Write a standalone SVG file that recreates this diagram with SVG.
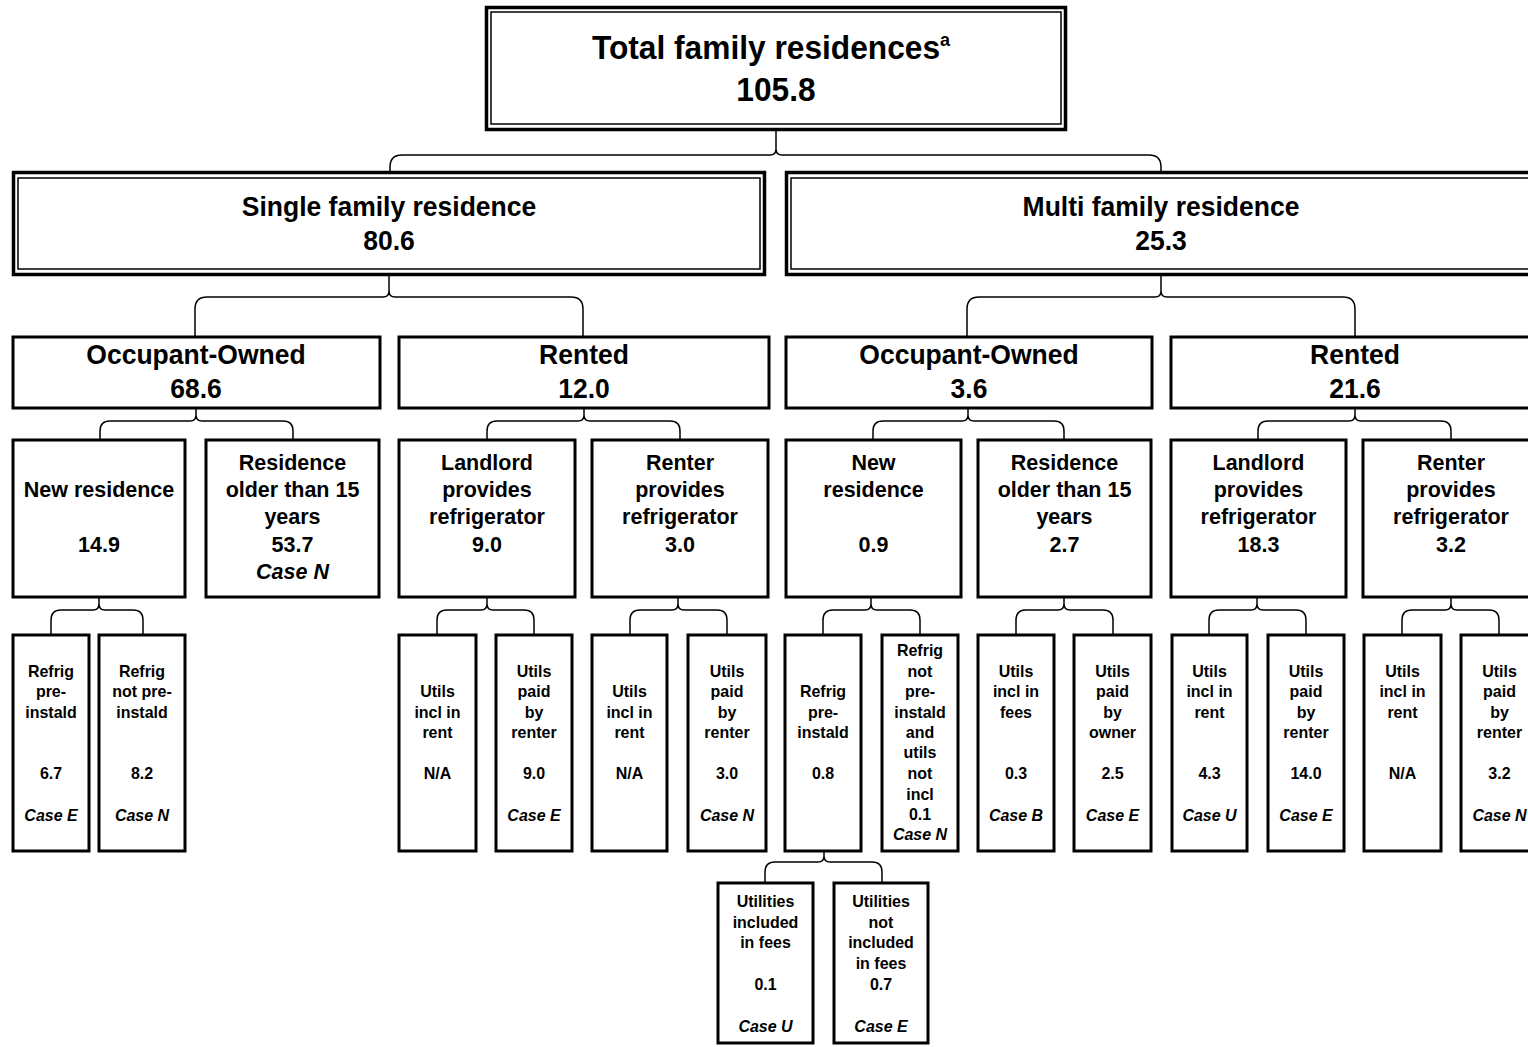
<svg xmlns="http://www.w3.org/2000/svg" width="1528" height="1047" viewBox="0 0 1528 1047">
<style>
.dblo{fill:#fff;stroke:#000;stroke-width:3.5}
.dbli{fill:none;stroke:#000;stroke-width:1.5}
.box{fill:#fff;stroke:#000;stroke-width:3}
.br{fill:none;stroke:#000;stroke-width:1.5}
text{font-family:"Liberation Sans",Arial,sans-serif;font-weight:bold;text-anchor:middle;fill:#000;transform-box:fill-box;transform-origin:center;transform:scaleY(1.06)}
.t0{font-size:31.7px}
.t1{font-size:26.5px}
.t3{font-size:21.5px}
.t4{font-size:16px}
.it{font-style:italic}
</style>
<g id="connectors">
<path class="br" d="M390,171 V167 Q390,155 402,155 H770 Q776,155 776,149 V130 M776,149 Q776,155 782,155 H1149 Q1161,155 1161,167 V171"/>
<path class="br" d="M195,336 V309 Q195,297 207,297 H383 Q389,297 389,291 V275 M389,291 Q389,297 395,297 H571 Q583,297 583,309 V336"/>
<path class="br" d="M967,336 V309 Q967,297 979,297 H1155 Q1161,297 1161,291 V275 M1161,291 Q1161,297 1167,297 H1343 Q1355,297 1355,309 V336"/>
<path class="br" d="M100,439 V431 Q100,421 110,421 H190 Q196,421 196,415 V408 M196,415 Q196,421 202,421 H283 Q293,421 293,431 V439"/>
<path class="br" d="M487,439 V431 Q487,421 497,421 H578 Q584,421 584,415 V408 M584,415 Q584,421 590,421 H670 Q680,421 680,431 V439"/>
<path class="br" d="M873,439 V431 Q873,421 883,421 H962 Q968,421 968,415 V408 M968,415 Q968,421 974,421 H1054 Q1064,421 1064,431 V439"/>
<path class="br" d="M1258,439 V431 Q1258,421 1268,421 H1349 Q1355,421 1355,415 V408 M1355,415 Q1355,421 1361,421 H1441 Q1451,421 1451,431 V439"/>
<path class="br" d="M51,634 V620 Q51,610 61,610 H93 Q99,610 99,604 V597 M99,604 Q99,610 105,610 H133 Q143,610 143,620 V634"/>
<path class="br" d="M437,634 V620 Q437,610 447,610 H481 Q487,610 487,604 V597 M487,604 Q487,610 493,610 H524 Q534,610 534,620 V634"/>
<path class="br" d="M630,634 V620 Q630,610 640,610 H672 Q678,610 678,604 V597 M678,604 Q678,610 684,610 H717 Q727,610 727,620 V634"/>
<path class="br" d="M823,634 V620 Q823,610 833,610 H865 Q871,610 871,604 V597 M871,604 Q871,610 877,610 H910 Q920,610 920,620 V634"/>
<path class="br" d="M1016,634 V620 Q1016,610 1026,610 H1058 Q1064,610 1064,604 V597 M1064,604 Q1064,610 1070,610 H1103 Q1113,610 1113,620 V634"/>
<path class="br" d="M1209,634 V620 Q1209,610 1219,610 H1251 Q1257,610 1257,604 V597 M1257,604 Q1257,610 1263,610 H1296 Q1306,610 1306,620 V634"/>
<path class="br" d="M1402,634 V620 Q1402,610 1412,610 H1445 Q1451,610 1451,604 V597 M1451,604 Q1451,610 1457,610 H1489 Q1499,610 1499,620 V634"/>
<path class="br" d="M765,882 V872 Q765,862 775,862 H818 Q824,862 824,856 V852 M824,856 Q824,862 830,862 H872 Q882,862 882,872 V882"/>
</g>
<g id="total">
<rect class="dblo" x="486.5" y="7.5" width="579" height="122"/>
<rect class="dbli" x="491" y="12" width="570" height="112"/>
<text class="t0" x="771" y="58">Total family residences<tspan font-size="18" dy="-12">a</tspan></text>
<text class="t0" x="776" y="100">105.8</text>
</g>
<g id="single">
<rect class="dblo" x="13.5" y="172.5" width="751" height="102"/>
<rect class="dbli" x="18" y="178" width="742" height="91"/>
<text class="t1" x="389" y="215">Single family residence</text>
<text class="t1" x="389" y="249">80.6</text>
</g>
<g id="multi">
<rect class="dblo" x="786.5" y="172.5" width="760" height="102"/>
<rect class="dbli" x="791" y="178" width="760" height="91"/>
<text class="t1" x="1161" y="215">Multi family residence</text>
<text class="t1" x="1161" y="249">25.3</text>
</g>
<g id="s-owned">
<rect class="box" x="13" y="337" width="367" height="71"/>
<text class="t1" x="196" y="363">Occupant-Owned</text>
<text class="t1" x="196" y="397">68.6</text>
</g>
<g id="s-rented">
<rect class="box" x="399" y="337" width="370" height="71"/>
<text class="t1" x="584" y="363">Rented</text>
<text class="t1" x="584" y="397">12.0</text>
</g>
<g id="m-owned">
<rect class="box" x="786" y="337" width="366" height="71"/>
<text class="t1" x="969" y="363">Occupant-Owned</text>
<text class="t1" x="969" y="397">3.6</text>
</g>
<g id="m-rented">
<rect class="box" x="1171" y="337" width="369" height="71"/>
<text class="t1" x="1355" y="363">Rented</text>
<text class="t1" x="1355" y="397">21.6</text>
</g>
<g id="s-new">
<rect class="box" x="13" y="440" width="172" height="157"/>
<text class="t3" x="99" y="497">New residence</text>
<text class="t3" x="99" y="552">14.9</text>
</g>
<g id="s-old">
<rect class="box" x="206" y="440" width="173" height="157"/>
<text class="t3" x="292.5" y="470">Residence</text>
<text class="t3" x="292.5" y="497">older than 15</text>
<text class="t3" x="292.5" y="524">years</text>
<text class="t3" x="292.5" y="552">53.7</text>
<text class="t3 it" x="292.5" y="579">Case N</text>
</g>
<g id="s-landlord">
<rect class="box" x="399" y="440" width="176" height="157"/>
<text class="t3" x="487" y="470">Landlord</text>
<text class="t3" x="487" y="497">provides</text>
<text class="t3" x="487" y="524">refrigerator</text>
<text class="t3" x="487" y="552">9.0</text>
</g>
<g id="s-renter">
<rect class="box" x="592" y="440" width="176" height="157"/>
<text class="t3" x="680" y="470">Renter</text>
<text class="t3" x="680" y="497">provides</text>
<text class="t3" x="680" y="524">refrigerator</text>
<text class="t3" x="680" y="552">3.0</text>
</g>
<g id="m-new">
<rect class="box" x="786" y="440" width="175" height="157"/>
<text class="t3" x="873.5" y="470">New</text>
<text class="t3" x="873.5" y="497">residence</text>
<text class="t3" x="873.5" y="552">0.9</text>
</g>
<g id="m-old">
<rect class="box" x="978" y="440" width="173" height="157"/>
<text class="t3" x="1064.5" y="470">Residence</text>
<text class="t3" x="1064.5" y="497">older than 15</text>
<text class="t3" x="1064.5" y="524">years</text>
<text class="t3" x="1064.5" y="552">2.7</text>
</g>
<g id="m-landlord">
<rect class="box" x="1171" y="440" width="175" height="157"/>
<text class="t3" x="1258.5" y="470">Landlord</text>
<text class="t3" x="1258.5" y="497">provides</text>
<text class="t3" x="1258.5" y="524">refrigerator</text>
<text class="t3" x="1258.5" y="552">18.3</text>
</g>
<g id="m-renter">
<rect class="box" x="1363" y="440" width="177" height="157"/>
<text class="t3" x="1451" y="470">Renter</text>
<text class="t3" x="1451" y="497">provides</text>
<text class="t3" x="1451" y="524">refrigerator</text>
<text class="t3" x="1451" y="552">3.2</text>
</g>
<g id="s-new-pre">
<rect class="box" x="13" y="635" width="76" height="216"/>
<text class="t4" x="51" y="677">Refrig</text>
<text class="t4" x="51" y="697">pre-</text>
<text class="t4" x="51" y="718">instald</text>
<text class="t4" x="51" y="779">6.7</text>
<text class="t4 it" x="51" y="821">Case E</text>
</g>
<g id="s-new-notpre">
<rect class="box" x="99" y="635" width="86" height="216"/>
<text class="t4" x="142" y="677">Refrig</text>
<text class="t4" x="142" y="697">not pre-</text>
<text class="t4" x="142" y="718">instald</text>
<text class="t4" x="142" y="779">8.2</text>
<text class="t4 it" x="142" y="821">Case N</text>
</g>
<g id="s-ll-incl">
<rect class="box" x="399" y="635" width="77" height="216"/>
<text class="t4" x="437.5" y="697">Utils</text>
<text class="t4" x="437.5" y="718">incl in</text>
<text class="t4" x="437.5" y="738">rent</text>
<text class="t4" x="437.5" y="779">N/A</text>
</g>
<g id="s-ll-paid">
<rect class="box" x="496" y="635" width="76" height="216"/>
<text class="t4" x="534" y="677">Utils</text>
<text class="t4" x="534" y="697">paid</text>
<text class="t4" x="534" y="718">by</text>
<text class="t4" x="534" y="738">renter</text>
<text class="t4" x="534" y="779">9.0</text>
<text class="t4 it" x="534" y="821">Case E</text>
</g>
<g id="s-rt-incl">
<rect class="box" x="592" y="635" width="75" height="216"/>
<text class="t4" x="629.5" y="697">Utils</text>
<text class="t4" x="629.5" y="718">incl in</text>
<text class="t4" x="629.5" y="738">rent</text>
<text class="t4" x="629.5" y="779">N/A</text>
</g>
<g id="s-rt-paid">
<rect class="box" x="688" y="635" width="78" height="216"/>
<text class="t4" x="727" y="677">Utils</text>
<text class="t4" x="727" y="697">paid</text>
<text class="t4" x="727" y="718">by</text>
<text class="t4" x="727" y="738">renter</text>
<text class="t4" x="727" y="779">3.0</text>
<text class="t4 it" x="727" y="821">Case N</text>
</g>
<g id="m-new-pre">
<rect class="box" x="785" y="635" width="76" height="216"/>
<text class="t4" x="823" y="697">Refrig</text>
<text class="t4" x="823" y="718">pre-</text>
<text class="t4" x="823" y="738">instald</text>
<text class="t4" x="823" y="779">0.8</text>
</g>
<g id="m-new-notpre">
<rect class="box" x="882" y="635" width="76" height="216"/>
<text class="t4" x="920" y="656">Refrig</text>
<text class="t4" x="920" y="677">not</text>
<text class="t4" x="920" y="697">pre-</text>
<text class="t4" x="920" y="718">instald</text>
<text class="t4" x="920" y="738">and</text>
<text class="t4" x="920" y="758">utils</text>
<text class="t4" x="920" y="779">not</text>
<text class="t4" x="920" y="800">incl</text>
<text class="t4" x="920" y="820">0.1</text>
<text class="t4 it" x="920" y="840">Case N</text>
</g>
<g id="m-old-incl">
<rect class="box" x="978" y="635" width="76" height="216"/>
<text class="t4" x="1016" y="677">Utils</text>
<text class="t4" x="1016" y="697">incl in</text>
<text class="t4" x="1016" y="718">fees</text>
<text class="t4" x="1016" y="779">0.3</text>
<text class="t4 it" x="1016" y="821">Case B</text>
</g>
<g id="m-old-paid">
<rect class="box" x="1074" y="635" width="77" height="216"/>
<text class="t4" x="1112.5" y="677">Utils</text>
<text class="t4" x="1112.5" y="697">paid</text>
<text class="t4" x="1112.5" y="718">by</text>
<text class="t4" x="1112.5" y="738">owner</text>
<text class="t4" x="1112.5" y="779">2.5</text>
<text class="t4 it" x="1112.5" y="821">Case E</text>
</g>
<g id="m-ll-incl">
<rect class="box" x="1172" y="635" width="75" height="216"/>
<text class="t4" x="1209.5" y="677">Utils</text>
<text class="t4" x="1209.5" y="697">incl in</text>
<text class="t4" x="1209.5" y="718">rent</text>
<text class="t4" x="1209.5" y="779">4.3</text>
<text class="t4 it" x="1209.5" y="821">Case U</text>
</g>
<g id="m-ll-paid">
<rect class="box" x="1268" y="635" width="76" height="216"/>
<text class="t4" x="1306" y="677">Utils</text>
<text class="t4" x="1306" y="697">paid</text>
<text class="t4" x="1306" y="718">by</text>
<text class="t4" x="1306" y="738">renter</text>
<text class="t4" x="1306" y="779">14.0</text>
<text class="t4 it" x="1306" y="821">Case E</text>
</g>
<g id="m-rt-incl">
<rect class="box" x="1364" y="635" width="77" height="216"/>
<text class="t4" x="1402.5" y="677">Utils</text>
<text class="t4" x="1402.5" y="697">incl in</text>
<text class="t4" x="1402.5" y="718">rent</text>
<text class="t4" x="1402.5" y="779">N/A</text>
</g>
<g id="m-rt-paid">
<rect class="box" x="1461" y="635" width="77" height="216"/>
<text class="t4" x="1499.5" y="677">Utils</text>
<text class="t4" x="1499.5" y="697">paid</text>
<text class="t4" x="1499.5" y="718">by</text>
<text class="t4" x="1499.5" y="738">renter</text>
<text class="t4" x="1499.5" y="779">3.2</text>
<text class="t4 it" x="1499.5" y="821">Case N</text>
</g>
<g id="m-pre-incl">
<rect class="box" x="718" y="883" width="95" height="160"/>
<text class="t4" x="765.5" y="907">Utilities</text>
<text class="t4" x="765.5" y="928">included</text>
<text class="t4" x="765.5" y="948">in fees</text>
<text class="t4" x="765.5" y="990">0.1</text>
<text class="t4 it" x="765.5" y="1032">Case U</text>
</g>
<g id="m-pre-notincl">
<rect class="box" x="834" y="883" width="94" height="160"/>
<text class="t4" x="881" y="907">Utilities</text>
<text class="t4" x="881" y="928">not</text>
<text class="t4" x="881" y="948">included</text>
<text class="t4" x="881" y="969">in fees</text>
<text class="t4" x="881" y="990">0.7</text>
<text class="t4 it" x="881" y="1032">Case E</text>
</g>
</svg>
